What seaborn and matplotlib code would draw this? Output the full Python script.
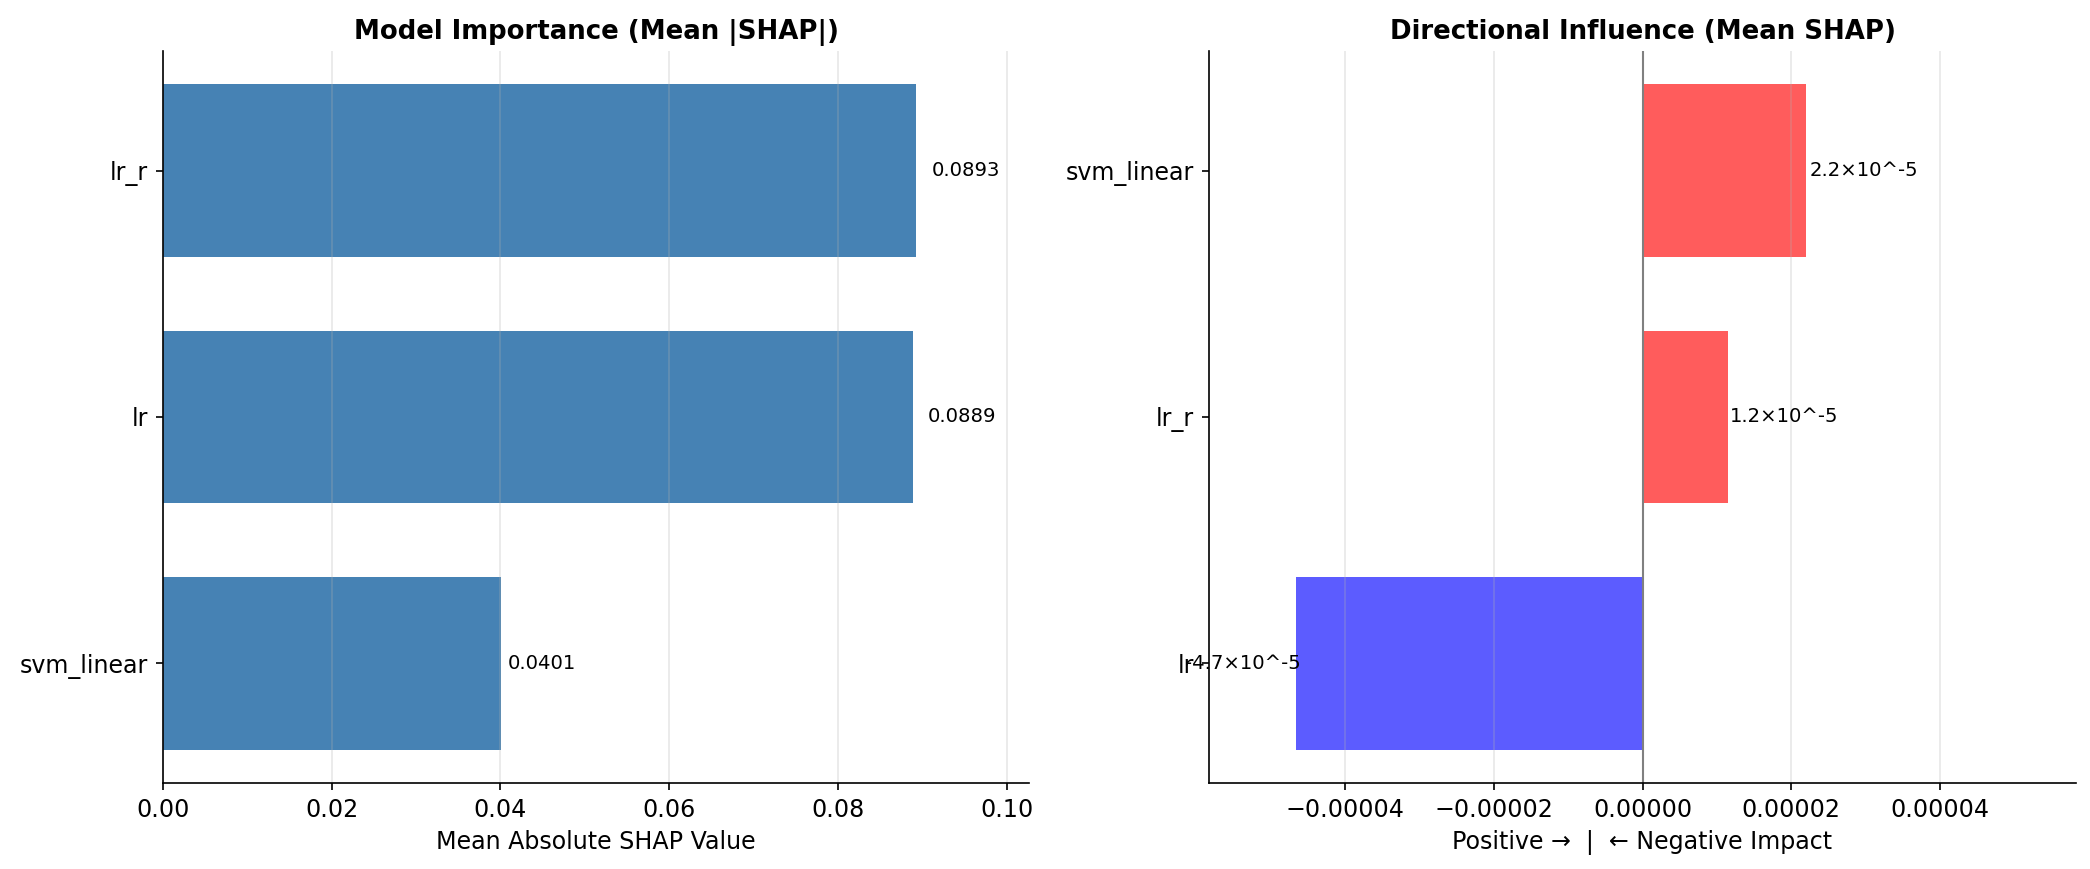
import pandas as pd
import matplotlib
matplotlib.use('Agg')
import matplotlib.pyplot as plt
import seaborn as sns

# valores
modelos_abs = ['lr_r', 'lr', 'svm_linear']
shap_abs = [0.0893, 0.0889, 0.0401]

modelos_dir = ['svm_linear', 'lr_r', 'lr']
shap_dir = [2.2e-5, 1.15e-5, -4.66e-5]
etiquetas_dir = ['2.2×10^-5', '1.2×10^-5', '-4.7×10^-5']

df_abs = pd.DataFrame({'model': modelos_abs, 'value': shap_abs})
df_dir = pd.DataFrame({'model': modelos_dir, 'value': shap_dir})
df_dir['sign'] = ['pos' if v > 0 else 'neg' for v in shap_dir]

fig = plt.figure(figsize=(2090 / 150, 869 / 150), dpi=150)
ax1 = fig.add_axes([0.078, 0.099, 0.4145, 0.8423])
ax2 = fig.add_axes([0.5785, 0.099, 0.4148, 0.8423])

# 1. Importancia absoluta
sns.barplot(data=df_abs, x='value', y='model', orient='h', color='steelblue',
            saturation=1, width=0.7, ax=ax1)
for i, v in enumerate(shap_abs):
    ax1.text(v * 1.02, i, f'{v:.4f}', va='center', ha='left', fontsize=9.4)
ax1.set_xlim(0, max(shap_abs) * 1.15)
ax1.set_ylim(2.485, -0.485)
ax1.set_title('Model Importance (Mean |SHAP|)', fontsize=12.5, fontweight='bold')
ax1.set_xlabel('Mean Absolute SHAP Value', fontsize=11.4)
ax1.set_ylabel('')
ax1.grid(axis='x', alpha=0.3)

# 2. Influencia direccional
sns.barplot(data=df_dir, x='value', y='model', orient='h', hue='sign',
            palette={'pos': '#ff5c5c', 'neg': '#5c5cff'}, saturation=1,
            width=0.7, legend=False, ax=ax2)
for i, (v, lab) in enumerate(zip(shap_dir, etiquetas_dir)):
    if v > 0:
        ax2.text(v * 1.02, i, lab, va='center', ha='left', fontsize=9.4)
    else:
        ax2.text(v * 0.985, i, lab, va='center', ha='right', fontsize=9.4)
lim = max(abs(v) for v in shap_dir) * 1.25
ax2.set_xlim(-lim, lim)
ax2.set_ylim(2.485, -0.485)
ax2.ticklabel_format(axis='x', style='plain', useOffset=False)
ax2.axvline(0, color='gray', linewidth=1)
ax2.set_title('Directional Influence (Mean SHAP)', fontsize=12.5, fontweight='bold')
ax2.set_xlabel('Positive →  |  ← Negative Impact', fontsize=11.4)
ax2.set_ylabel('')
ax2.grid(axis='x', alpha=0.3)

for ax in (ax1, ax2):
    ax.tick_params(labelsize=11.4)
sns.despine(fig)

plt.savefig('out.png', dpi=150)
